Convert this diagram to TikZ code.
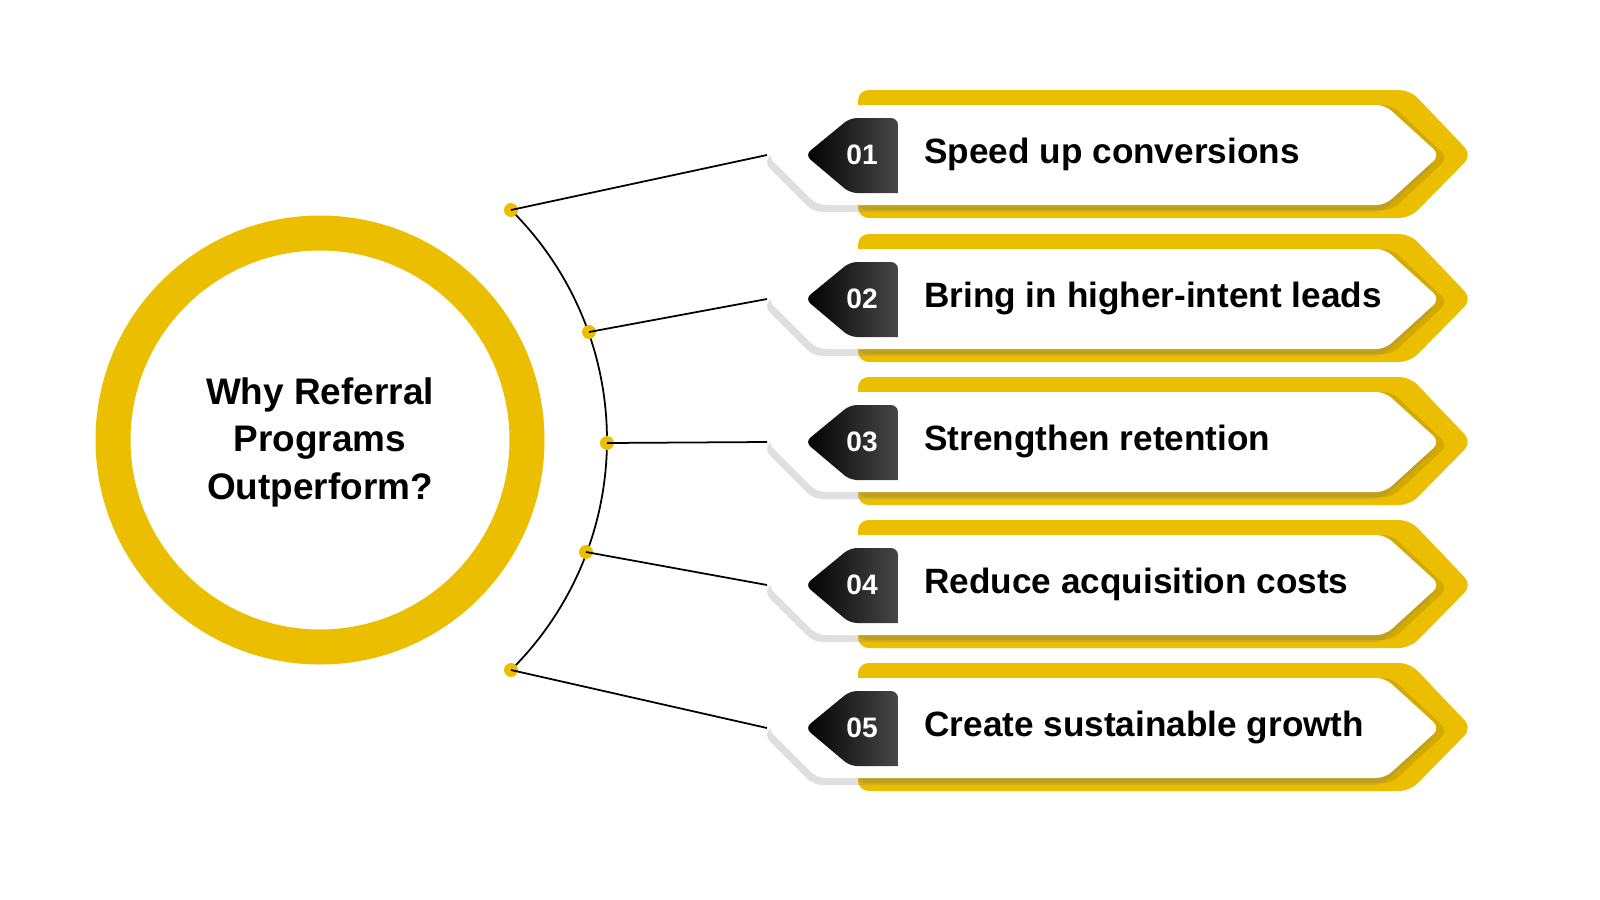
\documentclass[tikz,border=0pt]{standalone}
\usepackage{fontspec}
\setmainfont{Liberation Sans}
\usetikzlibrary{positioning,shadows}
\definecolor{gold}{HTML}{EBBE00}
\definecolor{golddark}{HTML}{D4AA00}
\begin{document}
\begin{tikzpicture}[x=0.01cm,y=-0.01cm]
        \tikzset{ring/.style={draw=gold,line width=35*0.01cm},
                 band/.style={fill=gold,rounded corners=3pt},
                 card/.style={fill=white,rounded corners=2.5pt,drop shadow={shadow xshift=-1pt,shadow yshift=-2pt,opacity=.25}},
                 tag/.style={left color=black,right color=black!72},
                 dot/.style={circle,fill=gold,inner sep=1.4pt},
                 item/.style={anchor=west,font=\bfseries\fontsize{10}{12}\selectfont}}
        \useasboundingbox (0,0) rectangle (1600,900);

        \draw[ring] (320,440) circle (207);
        \node[align=center,font=\bfseries\fontsize{10.5}{13.5}\selectfont] (title) at (320,442)
            {Why Referral\\Programs\\Outperform?};

        % curved spine
        \draw[black,line width=0.5pt] (283.5,440) ++(-45.3:323.5) arc[start angle=-45.3,end angle=45.3,radius=323.5];

        \foreach \i/\yc/\dx/\dy/\txt in {1/155/511/210/Speed up conversions,
                                         2/299/589/332/Bring in higher-intent leads,
                                         3/442/607/443/Strengthen retention,
                                         4/585/586/552/Reduce acquisition costs,
                                         5/728/511/670/Create sustainable growth}{
            \fill[band] (858,\yc-65) -- (1410,\yc-65) -- (1472,\yc) -- (1410,\yc+63) -- (858,\yc+63) -- cycle;
            \fill[golddark,rounded corners=2.5pt] (858,\yc-50) -- (1392,\yc-50) -- (1448,\yc+3) -- (1392,\yc+55) -- (858,\yc+55) -- cycle;
            \path[card] (767,\yc) -- (817,\yc-50) -- (1385,\yc-50) -- (1440,\yc) -- (1385,\yc+50) -- (817,\yc+50) -- cycle;
            \shade[tag,rounded corners=2pt] (805,\yc) -- (850,\yc-37) -- (898,\yc-37) [sharp corners] -- (898,\yc+38) [rounded corners=2pt] -- (850,\yc+38) -- cycle;
            \node[text=white,font=\bfseries\fontsize{8}{10}\selectfont] (num\i) at (862,\yc) {0\i};
            \node[item] (item\i) at (912,\yc-1) {\txt};
            \coordinate (tip\i) at (767,\yc);
            \node[dot] (dot\i) at (\dx,\dy) {};
            \draw[line width=0.5pt] (dot\i.center) -- (tip\i);
        }
    \end{tikzpicture}
\end{document}
